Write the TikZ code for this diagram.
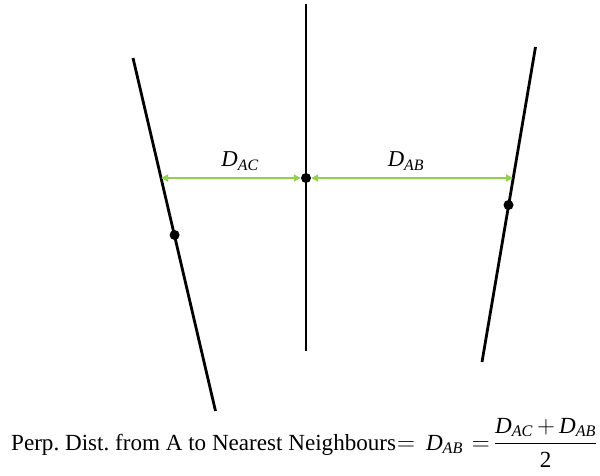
\documentclass[tikz,border=0pt]{standalone}
\usepackage{amsmath}
\usepackage{fontspec}
\setmainfont{Liberation Serif}
\usetikzlibrary{arrows.meta}
\definecolor{arrowgreen}{RGB}{146,208,80}
\newcommand{\dsub}[1]{\textit{D}_{\textit{#1}}}
\begin{document}
\begin{tikzpicture}[x=1pt,y=-1pt,
  wire/.style={line width=2.8pt},
  dotpt/.style={circle,fill=black,inner sep=0pt,minimum size=10pt},
  gap/.style={draw=arrowgreen,line width=1.8pt,{Triangle[length=7pt,width=7pt]}-{Triangle[length=7pt,width=7pt]}},
  lbl/.style={font=\fontsize{22.7}{27}\selectfont,inner sep=0pt}]
\useasboundingbox (0,0) rectangle (600,476);
\coordinate (LT) at (133,58);   \coordinate (LB) at (215.5,411);
\coordinate (MT) at (306,4);    \coordinate (MB) at (306,351);
\coordinate (RT) at (535.5,47); \coordinate (RB) at (482,362);
\draw[wire] (LT) -- (LB);
\draw[wire] (MT) -- (MB);
\draw[wire] (RT) -- (RB);
\node[dotpt] (A) at (306,178) {};
\node[dotpt] (C) at (174.6,235) {};
\node[dotpt] (B) at (508.5,205) {};
\coordinate (CL) at (161.1,178);
\coordinate (BR) at (513,178);
\draw[gap] (CL) -- (A);
\draw[gap] (A) -- (BR);
\node[lbl,anchor=base] (dac) at (240,167) {$\dsub{AC}$};
\node[lbl,anchor=base] (dab) at (406,167) {$\dsub{AB}$};
\node[lbl,anchor=base west,font=\fontsize{23.1}{27}\selectfont\frenchspacing] (formula) at (11,450) {Perp.~Dist.~from A to Nearest Neighbours\kern1pt$=$\kern11pt$\dsub{AB}$\kern9pt$=$\kern4pt$\medmuskip=3mu\dfrac{\dsub{AC}+\dsub{AB}}{\text{2}}$};
\end{tikzpicture}
\end{document}
